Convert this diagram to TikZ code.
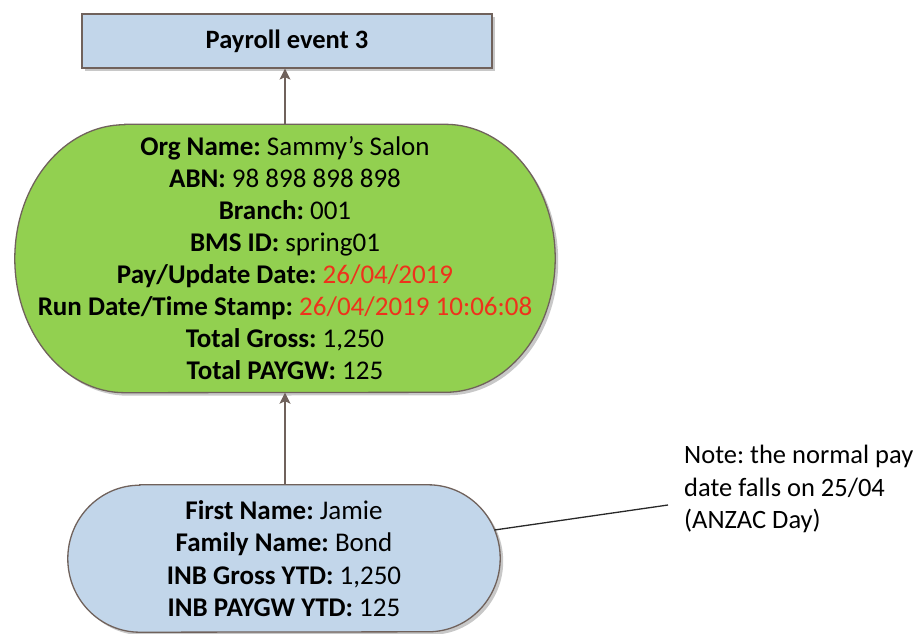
\documentclass[tikz,border=0pt]{standalone}
\usepackage{fontspec}
\setmainfont{Carlito}
\usetikzlibrary{arrows.meta,backgrounds,calc,shadows}

\definecolor{edgecol}{RGB}{112,98,92}
\definecolor{greenfill}{RGB}{146,208,80}
\definecolor{bluefill}{RGB}{194,214,234}
\definecolor{datered}{RGB}{238,50,28}
\definecolor{notecol}{RGB}{40,40,40}
\definecolor{shadowcol}{RGB}{200,200,200}

% capsule outline around a rectangular node: #1 node, #2 end x-radius, #3 end y-radius
\newcommand\capsulepath[3]{%
  ([xshift=#2]#1.north west) -- ([xshift=-#2]#1.north east)
  arc[start angle=90,end angle=-90,x radius=#2,y radius=#3]
  -- ([xshift=#2]#1.south west)
  arc[start angle=270,end angle=90,x radius=#2,y radius=#3] -- cycle}

\begin{document}
\frenchspacing
\begin{tikzpicture}[x=1pt,y=1pt,
  txt/.style={font=\fontsize{27}{32}\selectfont, align=center, inner sep=0pt},
  eventbox/.style={txt, font=\fontsize{26.5}{32}\selectfont, draw=edgecol, line width=1.3pt, fill=bluefill,
    minimum width=410pt, minimum height=54pt,
    drop shadow={shadow xshift=3pt, shadow yshift=-3pt, fill=shadowcol, opacity=1}},
  capsule/.style={txt},
  outline/.style={draw=edgecol, line width=1.3pt},
  conn/.style={draw=edgecol, line width=1.2pt,
    -{Stealth[length=11pt,width=11pt,inset=2.5pt]}},
  noteline/.style={draw=notecol, line width=1.3pt},
  notetext/.style={font=\fontsize{26.5}{32.5}\selectfont, align=left, inner sep=0pt}]
\useasboundingbox (0,0) rectangle (918,-634);

% payroll event box
\node[eventbox] (ev) at (287,-41) {\textbf{Payroll event 3}};

% organisation capsule
\node[capsule, minimum width=540pt, minimum height=268pt] (org) at (285,-258.5)
  {\textbf{Org Name:} Sammy’s Salon\\
   \textbf{ABN:} 98 898 898 898\\
   \textbf{Branch:} 001\\
   \textbf{BMS ID:} spring01\\
   \textbf{Pay/Update Date:} \textcolor{datered}{26/04/2019}\\
   \textbf{Run Date/Time Stamp:} \textcolor{datered}{26/04/2019 10:06:08}\\
   \textbf{Total Gross:} 1,250\\
   \textbf{Total PAYGW:} 125};

% employee capsule
\node[capsule, font=\fontsize{27}{32.5}\selectfont, minimum width=432pt, minimum height=147pt] (inb) at (284,-558.5)
  {\textbf{First Name:} Jamie\\
   \textbf{Family Name:} Bond\\
   \textbf{INB Gross YTD:} 1,250\\
   \textbf{INB PAYGW YTD:} 125};

\begin{scope}[on background layer]
  \fill[shadowcol, transform canvas={shift={(3pt,-3pt)}}] \capsulepath{org}{110pt}{134pt};
  \path[outline, fill=greenfill] \capsulepath{org}{110pt}{134pt};
  \fill[shadowcol, transform canvas={shift={(3pt,-3pt)}}] \capsulepath{inb}{72pt}{73.5pt};
  \path[outline, fill=bluefill] \capsulepath{inb}{72pt}{73.5pt};
\end{scope}

% note
\node[notetext, anchor=west] (note) at (684,-489)
  {Note: the normal pay\\date falls on 25/04\\(ANZAC Day)};
\coordinate (notetip) at (668,-505);

% connectors
\draw[conn] (org.north) -- (org.north |- ev.south);
\draw[conn] (inb.north -| org.south) -- (org.south);
\draw[noteline] ($(inb.east)+(-72,0)+(23.3:72)$) -- (notetip);
\end{tikzpicture}
\end{document}
